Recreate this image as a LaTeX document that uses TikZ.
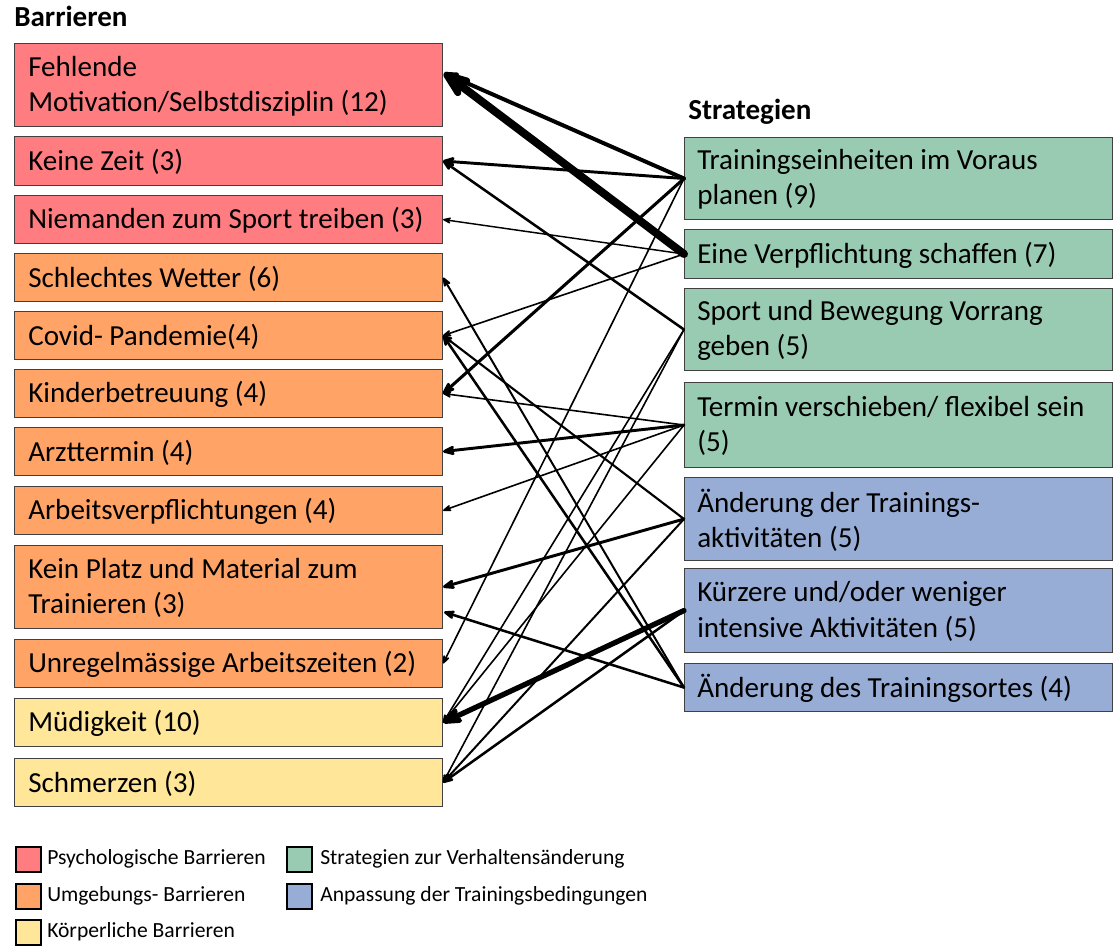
\documentclass[tikz,border=0pt]{standalone}
\usepackage{fontspec}
\setmainfont{Carlito}
\usetikzlibrary{arrows.meta,calc}
\definecolor{cpsy}{RGB}{255,124,128}
\definecolor{cumg}{RGB}{255,164,102}
\definecolor{ckoe}{RGB}{255,230,153}
\definecolor{cstr}{RGB}{153,203,178}
\definecolor{canp}{RGB}{151,173,214}
\definecolor{cbord}{RGB}{64,64,64}
\newcommand\boxfont{\fontsize{21.8pt}{26.5pt}\selectfont}
\newcommand\legfont{\fontsize{16.2pt}{19pt}\selectfont}
\tikzset{
  bbox/.style={draw=cbord, line width=0.8pt, anchor=north west, minimum width=321pt, inner sep=0pt},
  btxt/.style={anchor=west, align=left, font=\boxfont, inner sep=0pt},
  conn/.style={-{Stealth[round]}, draw=black, line cap=round},
  legsq/.style={draw=black, line width=1.4pt, anchor=north west, minimum width=19pt, minimum height=18.5pt, inner sep=0pt},
  legtx/.style={anchor=west, font=\legfont, inner sep=0pt},
  ttl/.style={anchor=base west, font=\boxfont\bfseries, inner sep=0pt}
}
\begin{document}
\begin{tikzpicture}[x=0.75pt,y=-0.75pt]
\useasboundingbox (0,0) rectangle (1119,945);
% titles
\node[ttl] (tb) at (14,27) {Barrieren};
\node[ttl] (ts) at (688,120) {Strategien};
% barriers
\node[bbox, fill=cpsy, minimum height=62.25pt] (L1) at (14,43) {};
\node[bbox, fill=cpsy, minimum height=36.75pt] (L2) at (14,136) {};
\node[bbox, fill=cpsy, minimum height=36pt] (L3) at (14,195) {};
\node[bbox, fill=cumg, minimum height=36pt] (L4) at (14,253) {};
\node[bbox, fill=cumg, minimum height=36pt] (L5) at (14,311) {};
\node[bbox, fill=cumg, minimum height=36pt] (L6) at (14,369) {};
\node[bbox, fill=cumg, minimum height=36pt] (L7) at (14,427) {};
\node[bbox, fill=cumg, minimum height=36pt] (L8) at (14,486) {};
\node[bbox, fill=cumg, minimum height=62.25pt] (L9) at (14,545) {};
\node[bbox, fill=cumg, minimum height=36pt] (L10) at (14,639) {};
\node[bbox, fill=ckoe, minimum height=36pt] (L11) at (14,698) {};
\node[bbox, fill=ckoe, minimum height=36pt] (L12) at (14,758) {};
\node[btxt] (T1) at ($(L1.west)+(14,1)$) {Fehlende\\Motivation/Selbstdisziplin (12)};
\node[btxt] (T2) at ($(L2.west)+(14,1)$) {Keine Zeit (3)};
\node[btxt] (T3) at ($(L3.west)+(14,1)$) {Niemanden zum Sport treiben (3)};
\node[btxt] (T4) at ($(L4.west)+(14,1)$) {Schlechtes Wetter (6)};
\node[btxt] (T5) at ($(L5.west)+(14,1)$) {Covid- Pandemie(4)};
\node[btxt] (T6) at ($(L6.west)+(14,1)$) {Kinderbetreuung (4)};
\node[btxt] (T7) at ($(L7.west)+(14,1)$) {Arzttermin (4)};
\node[btxt] (T8) at ($(L8.west)+(14,1)$) {Arbeitsverpflichtungen (4)};
\node[btxt] (T9) at ($(L9.west)+(14,1)$) {Kein Platz und Material zum\\Trainieren (3)};
\node[btxt] (T10) at ($(L10.west)+(14,1)$) {Unregelmässige Arbeitszeiten (2)};
\node[btxt] (T11) at ($(L11.west)+(14,1)$) {Müdigkeit (10)};
\node[btxt] (T12) at ($(L12.west)+(14,1)$) {Schmerzen (3)};
% strategies
\node[bbox, fill=cstr, minimum height=61.5pt] (R1) at (684,137) {};
\node[bbox, fill=cstr, minimum height=36.75pt] (R2) at (684,229) {};
\node[bbox, fill=cstr, minimum height=61.5pt] (R3) at (684,288) {};
\node[bbox, fill=cstr, minimum height=63.75pt] (R4) at (684,382) {};
\node[bbox, fill=canp, minimum height=62.25pt] (R5) at (684,477) {};
\node[bbox, fill=canp, minimum height=63pt] (R6) at (684,568) {};
\node[bbox, fill=canp, minimum height=36pt] (R7) at (684,663) {};
\node[btxt] (S1) at ($(R1.west)+(13,1)$) {Trainingseinheiten im Voraus\\planen (9)};
\node[btxt] (S2) at ($(R2.west)+(13,1)$) {Eine Verpflichtung schaffen (7)};
\node[btxt] (S3) at ($(R3.west)+(13,1)$) {Sport und Bewegung Vorrang\\geben (5)};
\node[btxt] (S4) at ($(R4.west)+(13,1)$) {Termin verschieben/ flexibel sein\\(5)};
\node[btxt] (S5) at ($(R5.west)+(13,1)$) {Änderung der Trainings-\\aktivitäten (5)};
\node[btxt] (S6) at ($(R6.west)+(13,1)$) {Kürzere und/oder weniger\\intensive Aktivitäten (5)};
\node[btxt] (S7) at ($(R7.west)+(13,1)$) {Änderung des Trainingsortes (4)};
% special end points
\coordinate (L1t) at ($(L1.east)+(1,-12)$);
\coordinate (L9b) at ($(L9.east)+(1,25)$);
% connectors
\draw[conn, line width=6pt] (R2.west) -- (L1t);
\draw[conn, line width=3pt] (R1.west) -- (L1t);
\draw[conn, line width=2.2pt] (R1.west) -- (L2.east);
\draw[conn, line width=1.9pt] (R3.west) -- (L2.east);
\draw[conn, line width=1.1pt] (R2.west) -- (L3.east);
\draw[conn, line width=1.5pt] (R7.west) -- (L4.east);
\draw[conn, line width=1.2pt] (R2.west) -- (L5.east);
\draw[conn, line width=1.6pt] (R5.west) -- (L5.east);
\draw[conn, line width=1.9pt] (R7.west) -- (L5.east);
\draw[conn, line width=2.3pt] (R1.west) -- (L6.east);
\draw[conn, line width=1.2pt] (R4.west) -- (L6.east);
\draw[conn, line width=2.2pt] (R4.west) -- (L7.east);
\draw[conn, line width=1.2pt] (R4.west) -- (L8.east);
\draw[conn, line width=2.2pt] (R5.west) -- (L9.east);
\draw[conn, line width=1.9pt] (R7.west) -- (L9b);
\draw[conn, line width=1.2pt] (R1.west) -- (L10.east);
\draw[conn, line width=4pt] (R6.west) -- (L11.east);
\draw[conn, line width=1.2pt] (R3.west) -- (L11.east);
\draw[conn, line width=1.2pt] (R4.west) -- (L11.east);
\draw[conn, line width=1.2pt] (R3.west) -- (L12.east);
\draw[conn, line width=1.5pt] (R5.west) -- (L12.east);
\draw[conn, line width=1.9pt] (R6.west) -- (L12.east);
% legend
\node[legsq, fill=cpsy] (q1) at (15,846) {};
\node[legtx] (g1) at (47,859) {Psychologische Barrieren};
\node[legsq, fill=cumg] (q2) at (15,883) {};
\node[legtx] (g2) at (47,896) {Umgebungs- Barrieren};
\node[legsq, fill=ckoe] (q3) at (15,919) {};
\node[legtx] (g3) at (47,932) {Körperliche Barrieren};
\node[legsq, fill=cstr] (q4) at (286,846) {};
\node[legtx] (g4) at (320,859) {Strategien zur Verhaltensänderung};
\node[legsq, fill=canp] (q5) at (286,883) {};
\node[legtx] (g5) at (320,896) {Anpassung der Trainingsbedingungen};
\end{tikzpicture}
\end{document}
